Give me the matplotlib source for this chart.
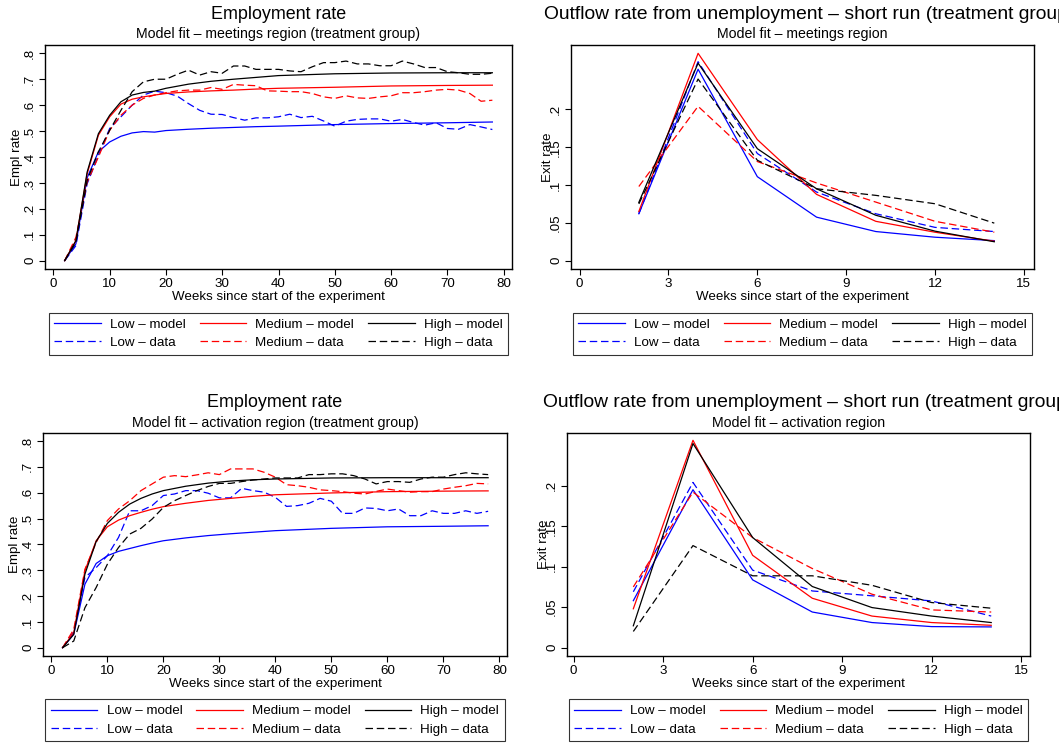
# Model fit figures: employment rate and short-run outflow rate
import matplotlib
matplotlib.use("Agg")
import matplotlib.pyplot as plt

plt.rcParams['font.family'] = ['Liberation Sans', 'DejaVu Sans']

#**********************
# Data
#**********************

# weeks for the data series (every 2 weeks) and for the model curves
weeks_data = list(range(2, 80, 2))
weeks_model = [2, 4, 6, 8, 10, 12, 14, 16, 18, 20, 24, 28, 32, 36, 40, 50, 60, 70, 78]
weeks_exit = [2, 4, 6, 8, 10, 12, 14]

# Employment rate - meetings region
meet_low_model = [0, 0.065, 0.32, 0.42, 0.458, 0.48, 0.493, 0.498, 0.496, 0.502, 0.507,
                  0.511, 0.514, 0.517, 0.519, 0.525, 0.529, 0.532, 0.535]
meet_med_model = [0, 0.077, 0.335, 0.484, 0.555, 0.604, 0.623, 0.632, 0.639, 0.645, 0.651,
                  0.655, 0.658, 0.662, 0.665, 0.669, 0.674, 0.676, 0.677]
meet_high_model = [0, 0.077, 0.342, 0.49, 0.561, 0.613, 0.639, 0.649, 0.654, 0.665, 0.681,
                   0.692, 0.700, 0.707, 0.714, 0.721, 0.724, 0.725, 0.725]
meet_low_data = [0, 0.058, 0.297, 0.406, 0.51, 0.555, 0.60, 0.639, 0.654, 0.648, 0.635, 0.606,
                 0.58, 0.565, 0.564, 0.552, 0.542, 0.551, 0.551, 0.555, 0.565, 0.552, 0.557,
                 0.539, 0.519, 0.538, 0.545, 0.547, 0.547, 0.538, 0.545, 0.533, 0.523, 0.532,
                 0.51, 0.507, 0.525, 0.516, 0.506]
meet_med_data = [0, 0.09, 0.303, 0.40, 0.503, 0.561, 0.60, 0.626, 0.639, 0.648, 0.655, 0.658,
                 0.658, 0.668, 0.661, 0.68, 0.677, 0.675, 0.655, 0.654, 0.652, 0.652, 0.645,
                 0.632, 0.626, 0.636, 0.628, 0.626, 0.632, 0.636, 0.648, 0.648, 0.652, 0.658,
                 0.661, 0.658, 0.645, 0.615, 0.619]
meet_high_data = [0, 0.071, 0.31, 0.42, 0.503, 0.58, 0.652, 0.69, 0.70, 0.70, 0.719, 0.735,
                  0.716, 0.729, 0.723, 0.751, 0.751, 0.738, 0.738, 0.738, 0.732, 0.729, 0.748,
                  0.764, 0.764, 0.77, 0.759, 0.759, 0.752, 0.752, 0.77, 0.759, 0.745, 0.745,
                  0.729, 0.725, 0.719, 0.719, 0.723]

# Employment rate - activation region
act_low_model = [0, 0.052, 0.246, 0.326, 0.356, 0.373, 0.384, 0.395, 0.405, 0.414, 0.425,
                 0.434, 0.441, 0.447, 0.453, 0.462, 0.468, 0.470, 0.472]
act_med_model = [0, 0.058, 0.298, 0.414, 0.468, 0.494, 0.511, 0.524, 0.536, 0.546, 0.559,
                 0.570, 0.578, 0.586, 0.592, 0.599, 0.604, 0.606, 0.607]
act_high_model = [0, 0.052, 0.285, 0.411, 0.481, 0.524, 0.556, 0.578, 0.595, 0.608, 0.625,
                  0.637, 0.645, 0.650, 0.653, 0.657, 0.658, 0.658, 0.658]
act_low_data = [0, 0.062, 0.272, 0.31, 0.356, 0.427, 0.53, 0.53, 0.55, 0.589, 0.595, 0.608,
                0.608, 0.598, 0.58, 0.58, 0.617, 0.608, 0.602, 0.582, 0.547, 0.55, 0.559,
                0.578, 0.567, 0.52, 0.52, 0.541, 0.539, 0.53, 0.537, 0.511, 0.511, 0.53,
                0.52, 0.52, 0.53, 0.52, 0.528]
act_med_data = [0, 0.071, 0.304, 0.407, 0.492, 0.537, 0.569, 0.608, 0.634, 0.66, 0.666, 0.662,
                0.669, 0.677, 0.67, 0.692, 0.692, 0.692, 0.679, 0.66, 0.631, 0.627, 0.621,
                0.611, 0.608, 0.604, 0.598, 0.595, 0.605, 0.614, 0.608, 0.602, 0.604, 0.604,
                0.614, 0.621, 0.627, 0.636, 0.634]
act_high_data = [0, 0.026, 0.155, 0.233, 0.323, 0.388, 0.44, 0.462, 0.498, 0.543, 0.569, 0.589,
                 0.608, 0.624, 0.636, 0.636, 0.643, 0.649, 0.653, 0.657, 0.657, 0.657, 0.67,
                 0.67, 0.673, 0.673, 0.666, 0.653, 0.634, 0.643, 0.643, 0.64, 0.653, 0.66,
                 0.66, 0.67, 0.677, 0.673, 0.67]

# Exit rate - meetings region
exit_meet_low_model = [0.062, 0.253, 0.111, 0.0575, 0.0385, 0.031, 0.0265]
exit_meet_med_model = [0.065, 0.274, 0.160, 0.0876, 0.052, 0.0376, 0.0257]
exit_meet_high_model = [0.077, 0.261, 0.148, 0.095, 0.060, 0.039, 0.025]
exit_meet_low_data = [0.062, 0.263, 0.1416, 0.0907, 0.062, 0.044, 0.0385]
exit_meet_med_data = [0.098, 0.204, 0.131, 0.1027, 0.0774, 0.052, 0.0376]
exit_meet_high_data = [0.075, 0.240, 0.1327, 0.095, 0.0863, 0.0752, 0.0496]

# Exit rate - activation region
exit_act_low_model = [0.058, 0.195, 0.0837, 0.044, 0.031, 0.026, 0.0256]
exit_act_med_model = [0.048, 0.256, 0.114, 0.061, 0.039, 0.031, 0.0276]
exit_act_high_model = [0.027, 0.252, 0.136, 0.0755, 0.0495, 0.039, 0.031]
exit_act_low_data = [0.069, 0.204, 0.0957, 0.070, 0.064, 0.0577, 0.039]
exit_act_med_data = [0.075, 0.192, 0.136, 0.0977, 0.066, 0.0466, 0.044]
exit_act_high_data = [0.020, 0.126, 0.0887, 0.0887, 0.077, 0.0557, 0.0487]

empl_yticks = [0, 0.1, 0.2, 0.3, 0.4, 0.5, 0.6, 0.7, 0.8]
empl_yticklabels = ['0', '.1', '.2', '.3', '.4', '.5', '.6', '.7', '.8']
empl_xticks = [0, 10, 20, 30, 40, 50, 60, 70, 80]
exit_yticks = [0, 0.05, 0.1, 0.15, 0.2]
exit_yticklabels = ['0', '.05', '.1', '.15', '.2']
exit_xticks = [0, 3, 6, 9, 12, 15]

#**********************
# Plotting
#**********************
W, H = 1059, 744
fig = plt.figure(figsize=(W / 100, H / 100), dpi=100)
fig.patch.set_facecolor('white')

DASH = (0, (6, 3))
FS = 9.6


def add_panel(left, right, top, bottom):
    return fig.add_axes([left / W, (H - bottom) / H, (right - left) / W, (bottom - top) / H])


def draw_panel(ax, xm, xd, models, datas, title, subtitle, ylabel, yticks, yticklabels,
               xticks, xlim, ylim, ylab_x, title_x=None):
    colors = ['blue', 'red', 'black']
    names = ['Low', 'Medium', 'High']
    handles = []
    for c, n, m, d in zip(colors, names, models, datas):
        h1, = ax.plot(xm, m, color=c, lw=0.9, label=f'{n} \u2013 model')
        h2, = ax.plot(xd, d, color=c, lw=0.9, linestyle=DASH, label=f'{n} \u2013 data')
        handles += [h1, h2]
    ax.set_xlim(*xlim)
    ax.set_ylim(*ylim)
    ax.set_xticks(xticks)
    ax.set_yticks(yticks)
    ax.set_yticklabels(yticklabels)
    ax.tick_params(axis='both', direction='out', length=4.3, width=0.8, labelsize=FS, pad=2)
    ax.tick_params(axis='y', labelrotation=90)
    for lab in ax.get_yticklabels():
        lab.set_va('center')
    for s in ax.spines.values():
        s.set_linewidth(1.0)
    ax.set_xlabel('Weeks since start of the experiment', fontsize=FS)
    ax.xaxis.set_label_coords(0.5, -0.098)
    ax.set_ylabel(ylabel, fontsize=FS)
    ax.yaxis.set_label_coords(ylab_x, 0.5)
    # main title (the long outflow title runs off the right edge, as in the original)
    if title_x is None:
        ax.text(0.5, 1.137, title, transform=ax.transAxes, ha='center', va='center',
                fontsize=12.9)
    else:
        ax.text(title_x, 1.137, title, transform=ax.transAxes, ha='left', va='center',
                fontsize=13.9)
    ax.text(0.5, 1.047, subtitle, transform=ax.transAxes, ha='center', va='center', fontsize=10.2)
    leg = ax.legend(handles=handles, loc='upper center', bbox_to_anchor=(0.5, -0.195), ncol=3,
                    fontsize=FS, frameon=True, fancybox=False, edgecolor='black',
                    handlelength=3.5, handletextpad=0.68, columnspacing=1.05,
                    borderpad=0.42, labelspacing=0.45, borderaxespad=0)
    leg.get_frame().set_linewidth(0.8)
    return ax


# Employment rate - meetings region
ax1 = add_panel(45, 512, 45, 269)
draw_panel(ax1, weeks_model, weeks_data,
           [meet_low_model, meet_med_model, meet_high_model],
           [meet_low_data, meet_med_data, meet_high_data],
           'Employment rate', 'Model fit \u2013 meetings region (treatment group)', 'Empl rate',
           empl_yticks, empl_yticklabels, empl_xticks, (-1.49, 81.49), (-0.032, 0.832), -0.047)

# Exit rate - meetings region
ax2 = add_panel(571, 1034, 45, 269)
draw_panel(ax2, weeks_exit, weeks_exit,
           [exit_meet_low_model, exit_meet_med_model, exit_meet_high_model],
           [exit_meet_low_data, exit_meet_med_data, exit_meet_high_data],
           'Outflow rate from unemployment \u2013 short run (treatment group)',
           'Model fit \u2013 meetings region', 'Exit rate',
           exit_yticks, exit_yticklabels, exit_xticks, (-0.29, 15.34), (-0.011, 0.285), -0.037,
           title_x=(544 - 571) / 463)

# Employment rate - activation region
ax3 = add_panel(43, 507, 433, 656)
draw_panel(ax3, weeks_model, weeks_data,
           [act_low_model, act_med_model, act_high_model],
           [act_low_data, act_med_data, act_high_data],
           'Employment rate', 'Model fit \u2013 activation region (treatment group)', 'Empl rate',
           empl_yticks, empl_yticklabels, empl_xticks, (-1.49, 81.37), (-0.032, 0.831), -0.047)

# Exit rate - activation region
ax4 = add_panel(567, 1030, 433, 656)
draw_panel(ax4, weeks_exit, weeks_exit,
           [exit_act_low_model, exit_act_med_model, exit_act_high_model],
           [exit_act_low_data, exit_act_med_data, exit_act_high_data],
           'Outflow rate from unemployment \u2013 short run (treatment group)',
           'Model fit \u2013 activation region', 'Exit rate',
           exit_yticks, exit_yticklabels, exit_xticks, (-0.224, 15.3), (-0.0103, 0.265), -0.037,
           title_x=(543 - 567) / 463)

plt.savefig('out.png', dpi=100)
